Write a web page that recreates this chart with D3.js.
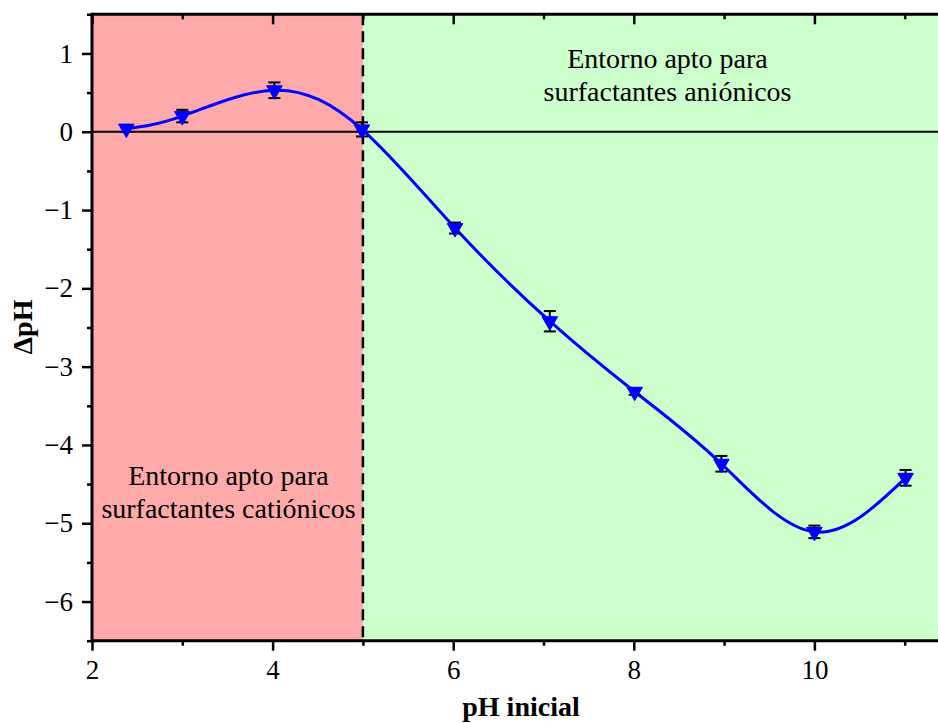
<!DOCTYPE html>
<html><head><meta charset="utf-8">
<script src="https://cdn.jsdelivr.net/npm/d3@7"></script>
<style>body{margin:0;background:#fff}svg{display:block}text{font-family:"Liberation Serif","Times New Roman",serif}</style>
</head><body>
<svg id="chart" width="938" height="723"></svg>
<script>
const phInicial = [2.38, 3.0, 4.02, 4.99, 6.02, 7.07, 8.01, 8.97, 10.0, 11.01];
const deltaPH   = [0.04, 0.2, 0.53, 0.03, -1.23, -2.42, -3.32, -4.24, -5.11, -4.42];
const errPH     = [0.04, 0.08, 0.1, 0.09, 0.07, 0.13, 0.04, 0.1, 0.08, 0.1];
const xTicks = [2, 4, 6, 8, 10];
const yTicks = [-6, -5, -4, -3, -2, -1, 0, 1];
const regionCat = [2, 5];
const regionAni = [5, 11.5];
const textAni = ["Entorno apto para", "surfactantes aniónicos"];
const textCat = ["Entorno apto para", "surfactantes catiónicos"];

const svg = d3.select("#chart");
const L = 92, T = 14.3, B = 640.7;
const x = d3.scaleLinear().domain([2, 11.5]).range([L, L + 9.5 * 90.3]);
const y = d3.scaleLinear().domain([-6.5, 1.5]).range([B, T]);

// regions
svg.append("rect").attr("x", x(regionCat[0])).attr("y", T).attr("width", x(regionCat[1]) - x(regionCat[0])).attr("height", B - T).attr("fill", "#ffaaaa");
svg.append("rect").attr("x", x(regionAni[0])).attr("y", T).attr("width", x(regionAni[1]) - x(regionAni[0])).attr("height", B - T).attr("fill", "#ccffcc");

// zero line
svg.append("line").attr("x1", L).attr("x2", 938).attr("y1", y(0)).attr("y2", y(0)).attr("stroke", "#000").attr("stroke-width", 2);
// dashed divider
svg.append("line").attr("x1", x(5)).attr("x2", x(5)).attr("y1", T).attr("y2", B).attr("stroke", "#000").attr("stroke-width", 2.5).attr("stroke-dasharray", "11,6");

// texts
function block(lines, cx, y0) {
  const t = svg.append("text").attr("text-anchor", "middle").attr("font-size", 28).attr("fill", "#000");
  lines.forEach((s, i) => t.append("tspan").attr("x", cx).attr("y", y0 + i * 33).text(s));
}
block(textAni, 667.5, 68);
block(textCat, 228.5, 485);

// curve
const pts = phInicial.map((v, i) => [v, deltaPH[i]]);
svg.append("path").attr("d", d3.line().x(d => x(d[0])).y(d => y(d[1])).curve(d3.curveNatural)(pts))
  .attr("fill", "none").attr("stroke", "#0000ff").attr("stroke-width", 3);

// error bars
const eb = svg.append("g").attr("stroke", "#000").attr("stroke-width", 2);
pts.forEach((p, i) => {
  const cx = x(p[0]), y1 = y(p[1] + errPH[i]), y2 = y(p[1] - errPH[i]);
  eb.append("line").attr("x1", cx).attr("x2", cx).attr("y1", y1).attr("y2", y2);
  eb.append("line").attr("x1", cx - 6).attr("x2", cx + 6).attr("y1", y1).attr("y2", y1);
  eb.append("line").attr("x1", cx - 6).attr("x2", cx + 6).attr("y1", y2).attr("y2", y2);
});
// markers: downward triangles
const tri = d3.symbol().type(d3.symbolTriangle).size(105);
svg.append("g").selectAll("path").data(pts).join("path")
  .attr("d", tri).attr("transform", d => `translate(${x(d[0])},${y(d[1])}) rotate(180)`)
  .attr("fill", "#0000ff").attr("stroke", "#0000ff").attr("stroke-width", 1);

// axes
const fmt = d => d < 0 ? "\u2212" + Math.abs(d) : String(d);
const xMinor = [3, 5, 7, 9, 11];
const yMinor = d3.range(-6.5, 1.51, 1);

const gx = svg.append("g").attr("transform", `translate(0,${B})`)
  .call(d3.axisBottom(x).tickValues(xTicks).tickFormat(fmt).tickSize(10).tickPadding(9));
const gxm = svg.append("g").attr("transform", `translate(0,${B})`)
  .call(d3.axisBottom(x).tickValues(xMinor).tickFormat("").tickSize(5));
const gt = svg.append("g").attr("transform", `translate(0,${T})`)
  .call(d3.axisBottom(x).tickValues(xTicks).tickFormat("").tickSize(10));
const gtm = svg.append("g").attr("transform", `translate(0,${T})`)
  .call(d3.axisBottom(x).tickValues(xMinor).tickFormat("").tickSize(5));
const gy = svg.append("g").attr("transform", `translate(${L},0)`)
  .call(d3.axisLeft(y).tickValues(yTicks).tickFormat(fmt).tickSize(10).tickPadding(9));
const gym = svg.append("g").attr("transform", `translate(${L},0)`)
  .call(d3.axisLeft(y).tickValues(yMinor).tickFormat("").tickSize(5));
[gx, gxm, gt, gtm, gy, gym].forEach(g => {
  g.selectAll(".domain").remove();
  g.selectAll("line").attr("stroke", "#000").attr("stroke-width", 2.5);
  g.selectAll("text").attr("font-size", 27).attr("fill", "#000").attr("font-family", "Liberation Serif");
});
// axis lines
svg.append("line").attr("x1", L).attr("x2", 938).attr("y1", B).attr("y2", B).attr("stroke", "#000").attr("stroke-width", 3);
svg.append("line").attr("x1", L).attr("x2", 938).attr("y1", T).attr("y2", T).attr("stroke", "#000").attr("stroke-width", 3);
svg.append("line").attr("x1", L).attr("x2", L).attr("y1", T - 1.5).attr("y2", B + 1.5).attr("stroke", "#000").attr("stroke-width", 3);

// titles
svg.append("text").attr("x", 521).attr("y", 716).attr("text-anchor", "middle").attr("font-size", 28).attr("font-weight", "bold").text("pH inicial");
svg.append("text").attr("transform", "translate(32,327) rotate(-90)").attr("text-anchor", "middle").attr("font-size", 28).attr("font-weight", "bold").text("ΔpH");
</script>
</body></html>
